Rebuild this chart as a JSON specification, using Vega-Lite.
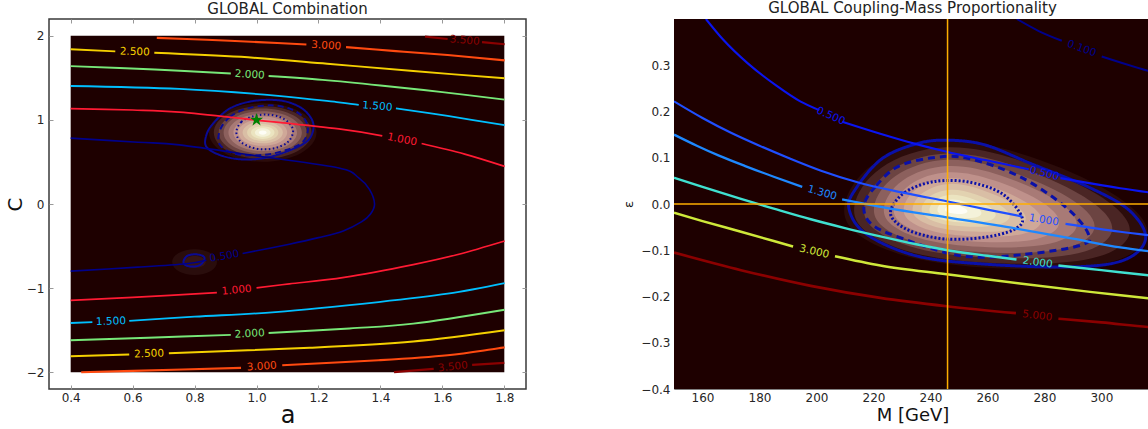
{
"$schema":"https://vega.github.io/schema/vega-lite/v6.json",
"background":"white",
"padding":{"left":4,"top":0,"right":0,"bottom":0},
"spacing":148,
"bounds":"flush",
"config":{
 "font":"DejaVu Sans",
 "view":{"stroke":null},
 "title":{"font":"DejaVu Sans","fontSize":15,"fontWeight":"normal","color":"#222222","offset":2},
 "axis":{"labelFont":"DejaVu Sans","labelFontSize":12,"labelColor":"#262626","titleFont":"DejaVu Sans","titleFontWeight":"normal","titleColor":"#111111","grid":false,"domain":false,"labelFlush":false,"labelOverlap":false,"tickColor":"#999999","tickWidth":1}
},
"resolve":{"scale":{"color":"independent","strokeWidth":"independent","strokeDash":"independent"}},
"datasets":{
 "Lg":[
  {"g":"r01","o":1,"a":1.2125,"c":0.85},{"g":"r01","o":2,"a":1.156,"c":1.122},{"g":"r01","o":3,"a":1.02,"c":1.235},{"g":"r01","o":4,"a":0.884,"c":1.122},{"g":"r01","o":5,"a":0.8275,"c":0.85},{"g":"r01","o":6,"a":0.884,"c":0.578},{"g":"r01","o":7,"a":1.02,"c":0.465},{"g":"r01","o":8,"a":1.156,"c":0.578},
  {"g":"r02","o":1,"a":1.195,"c":0.85},{"g":"r02","o":2,"a":1.144,"c":1.097},{"g":"r02","o":3,"a":1.02,"c":1.2},{"g":"r02","o":4,"a":0.896,"c":1.097},{"g":"r02","o":5,"a":0.845,"c":0.85},{"g":"r02","o":6,"a":0.896,"c":0.603},{"g":"r02","o":7,"a":1.02,"c":0.5},{"g":"r02","o":8,"a":1.144,"c":0.603},
  {"g":"r03","o":1,"a":1.1775,"c":0.85},{"g":"r03","o":2,"a":1.131,"c":1.073},{"g":"r03","o":3,"a":1.02,"c":1.165},{"g":"r03","o":4,"a":0.909,"c":1.073},{"g":"r03","o":5,"a":0.8625,"c":0.85},{"g":"r03","o":6,"a":0.909,"c":0.627},{"g":"r03","o":7,"a":1.02,"c":0.535},{"g":"r03","o":8,"a":1.131,"c":0.627},
  {"g":"r04","o":1,"a":1.16,"c":0.85},{"g":"r04","o":2,"a":1.119,"c":1.048},{"g":"r04","o":3,"a":1.02,"c":1.13},{"g":"r04","o":4,"a":0.921,"c":1.048},{"g":"r04","o":5,"a":0.88,"c":0.85},{"g":"r04","o":6,"a":0.921,"c":0.652},{"g":"r04","o":7,"a":1.02,"c":0.57},{"g":"r04","o":8,"a":1.119,"c":0.652},
  {"g":"r05","o":1,"a":1.1425,"c":0.85},{"g":"r05","o":2,"a":1.107,"c":1.023},{"g":"r05","o":3,"a":1.02,"c":1.095},{"g":"r05","o":4,"a":0.933,"c":1.023},{"g":"r05","o":5,"a":0.8975,"c":0.85},{"g":"r05","o":6,"a":0.933,"c":0.677},{"g":"r05","o":7,"a":1.02,"c":0.605},{"g":"r05","o":8,"a":1.107,"c":0.677},
  {"g":"r06","o":1,"a":1.125,"c":0.85},{"g":"r06","o":2,"a":1.094,"c":0.998},{"g":"r06","o":3,"a":1.02,"c":1.06},{"g":"r06","o":4,"a":0.946,"c":0.998},{"g":"r06","o":5,"a":0.915,"c":0.85},{"g":"r06","o":6,"a":0.946,"c":0.702},{"g":"r06","o":7,"a":1.02,"c":0.64},{"g":"r06","o":8,"a":1.094,"c":0.702},
  {"g":"r07","o":1,"a":1.1075,"c":0.85},{"g":"r07","o":2,"a":1.082,"c":0.974},{"g":"r07","o":3,"a":1.02,"c":1.025},{"g":"r07","o":4,"a":0.958,"c":0.974},{"g":"r07","o":5,"a":0.9325,"c":0.85},{"g":"r07","o":6,"a":0.958,"c":0.726},{"g":"r07","o":7,"a":1.02,"c":0.675},{"g":"r07","o":8,"a":1.082,"c":0.726},
  {"g":"r08","o":1,"a":1.092,"c":0.85},{"g":"r08","o":2,"a":1.071,"c":0.951},{"g":"r08","o":3,"a":1.02,"c":0.994},{"g":"r08","o":4,"a":0.969,"c":0.951},{"g":"r08","o":5,"a":0.948,"c":0.85},{"g":"r08","o":6,"a":0.969,"c":0.749},{"g":"r08","o":7,"a":1.02,"c":0.707},{"g":"r08","o":8,"a":1.071,"c":0.749},
  {"g":"r09","o":1,"a":1.076,"c":0.85},{"g":"r09","o":2,"a":1.06,"c":0.929},{"g":"r09","o":3,"a":1.02,"c":0.962},{"g":"r09","o":4,"a":0.98,"c":0.929},{"g":"r09","o":5,"a":0.964,"c":0.85},{"g":"r09","o":6,"a":0.98,"c":0.771},{"g":"r09","o":7,"a":1.02,"c":0.738},{"g":"r09","o":8,"a":1.06,"c":0.771},
  {"g":"r10","o":1,"a":1.062,"c":0.85},{"g":"r10","o":2,"a":1.05,"c":0.909},{"g":"r10","o":3,"a":1.02,"c":0.934},{"g":"r10","o":4,"a":0.99,"c":0.909},{"g":"r10","o":5,"a":0.978,"c":0.85},{"g":"r10","o":6,"a":0.99,"c":0.791},{"g":"r10","o":7,"a":1.02,"c":0.766},{"g":"r10","o":8,"a":1.05,"c":0.791},
  {"g":"r11","o":1,"a":1.048,"c":0.85},{"g":"r11","o":2,"a":1.04,"c":0.89},{"g":"r11","o":3,"a":1.02,"c":0.906},{"g":"r11","o":4,"a":1.0,"c":0.89},{"g":"r11","o":5,"a":0.992,"c":0.85},{"g":"r11","o":6,"a":1.0,"c":0.81},{"g":"r11","o":7,"a":1.02,"c":0.794},{"g":"r11","o":8,"a":1.04,"c":0.81},
  {"g":"r12","o":1,"a":1.034,"c":0.85},{"g":"r12","o":2,"a":1.03,"c":0.87},{"g":"r12","o":3,"a":1.02,"c":0.878},{"g":"r12","o":4,"a":1.01,"c":0.87},{"g":"r12","o":5,"a":1.006,"c":0.85},{"g":"r12","o":6,"a":1.01,"c":0.83},{"g":"r12","o":7,"a":1.02,"c":0.822},{"g":"r12","o":8,"a":1.03,"c":0.83},
  {"g":"h1","o":1,"a":0.88,"c":-0.69},{"g":"h1","o":2,"a":0.857,"c":-0.57},{"g":"h1","o":3,"a":0.8,"c":-0.52},{"g":"h1","o":4,"a":0.743,"c":-0.57},{"g":"h1","o":5,"a":0.72,"c":-0.69},{"g":"h1","o":6,"a":0.743,"c":-0.81},{"g":"h1","o":7,"a":0.8,"c":-0.86},{"g":"h1","o":8,"a":0.857,"c":-0.81},
  {"g":"h2","o":1,"a":0.84,"c":-0.69},{"g":"h2","o":2,"a":0.828,"c":-0.633},{"g":"h2","o":3,"a":0.8,"c":-0.61},{"g":"h2","o":4,"a":0.772,"c":-0.633},{"g":"h2","o":5,"a":0.76,"c":-0.69},{"g":"h2","o":6,"a":0.772,"c":-0.747},{"g":"h2","o":7,"a":0.8,"c":-0.77},{"g":"h2","o":8,"a":0.828,"c":-0.747}
 ],
 "Lk":[
  {"k":"s","o":1,"a":0.86,"c":0.957},{"k":"s","o":2,"a":0.913,"c":1.134},{"k":"s","o":3,"a":0.988,"c":1.224},{"k":"s","o":4,"a":1.075,"c":1.232},{"k":"s","o":5,"a":1.14,"c":1.153},{"k":"s","o":6,"a":1.177,"c":1.016},{"k":"s","o":7,"a":1.183,"c":0.878},{"k":"s","o":8,"a":1.161,"c":0.74},{"k":"s","o":9,"a":1.096,"c":0.622},{"k":"s","o":10,"a":1.021,"c":0.544},{"k":"s","o":11,"a":0.946,"c":0.532},{"k":"s","o":12,"a":0.881,"c":0.583},{"k":"s","o":13,"a":0.838,"c":0.681},{"k":"s","o":14,"a":0.838,"c":0.819},
  {"k":"d","o":1,"a":0.882,"c":0.878},{"k":"d","o":2,"a":0.914,"c":1.035},{"k":"d","o":3,"a":0.968,"c":1.134},{"k":"d","o":4,"a":1.043,"c":1.173},{"k":"d","o":5,"a":1.107,"c":1.134},{"k":"d","o":6,"a":1.15,"c":1.035},{"k":"d","o":7,"a":1.166,"c":0.898},{"k":"d","o":8,"a":1.15,"c":0.74},{"k":"d","o":9,"a":1.096,"c":0.642},{"k":"d","o":10,"a":1.021,"c":0.583},{"k":"d","o":11,"a":0.935,"c":0.595},{"k":"d","o":12,"a":0.882,"c":0.701},
  {"k":"t","o":1,"a":0.935,"c":0.858},{"k":"t","o":2,"a":0.951,"c":0.976},{"k":"t","o":3,"a":0.989,"c":1.043},{"k":"t","o":4,"a":1.031,"c":1.063},{"k":"t","o":5,"a":1.075,"c":1.035},{"k":"t","o":6,"a":1.107,"c":0.957},{"k":"t","o":7,"a":1.118,"c":0.858},{"k":"t","o":8,"a":1.102,"c":0.74},{"k":"t","o":9,"a":1.064,"c":0.669},{"k":"t","o":10,"a":1.021,"c":0.65},{"k":"t","o":11,"a":0.978,"c":0.681},{"k":"t","o":12,"a":0.946,"c":0.752},
  {"k":"m","o":1,"a":0.764,"c":-0.69},{"k":"m","o":2,"a":0.775,"c":-0.62},{"k":"m","o":3,"a":0.8,"c":-0.598},{"k":"m","o":4,"a":0.825,"c":-0.615},{"k":"m","o":5,"a":0.832,"c":-0.655},{"k":"m","o":6,"a":0.82,"c":-0.72},{"k":"m","o":7,"a":0.8,"c":-0.743},{"k":"m","o":8,"a":0.775,"c":-0.735}
 ],
 "L":[
  {"lv":"3.0","sg":"A","o":1,"a":0.678,"c":1.976},{"lv":"3.0","sg":"A","o":2,"a":0.839,"c":1.953},{"lv":"3.0","sg":"A","o":3,"a":1.006,"c":1.925},{"lv":"3.0","sg":"A","o":4,"a":1.161,"c":1.897},
  {"lv":"3.0","sg":"B","o":1,"a":1.289,"c":1.866},{"lv":"3.0","sg":"B","o":2,"a":1.45,"c":1.818},{"lv":"3.0","sg":"B","o":3,"a":1.617,"c":1.771},{"lv":"3.0","sg":"B","o":4,"a":1.801,"c":1.708},
  {"lv":"3.5","sg":"C","o":1,"a":1.544,"c":1.99},{"lv":"3.5","sg":"C","o":2,"a":1.617,"c":1.962},
  {"lv":"3.5","sg":"D","o":1,"a":1.728,"c":1.925},{"lv":"3.5","sg":"D","o":2,"a":1.801,"c":1.9},
  {"lv":"2.5","sg":"E","o":1,"a":0.4,"c":1.84},{"lv":"2.5","sg":"E","o":2,"a":0.544,"c":1.815},
  {"lv":"2.5","sg":"F","o":1,"a":0.67,"c":1.8},{"lv":"2.5","sg":"F","o":2,"a":0.95,"c":1.75},{"lv":"2.5","sg":"F","o":3,"a":1.228,"c":1.668},{"lv":"2.5","sg":"F","o":4,"a":1.506,"c":1.581},{"lv":"2.5","sg":"F","o":5,"a":1.801,"c":1.494},
  {"lv":"2.0","sg":"G","o":1,"a":0.4,"c":1.64},{"lv":"2.0","sg":"G","o":2,"a":0.672,"c":1.6},{"lv":"2.0","sg":"G","o":3,"a":0.917,"c":1.552},
  {"lv":"2.0","sg":"H","o":1,"a":1.039,"c":1.522},{"lv":"2.0","sg":"H","o":2,"a":1.213,"c":1.476},{"lv":"2.0","sg":"H","o":3,"a":1.4,"c":1.41},{"lv":"2.0","sg":"H","o":4,"a":1.6,"c":1.33},{"lv":"2.0","sg":"H","o":5,"a":1.801,"c":1.241},
  {"lv":"1.5","sg":"I","o":1,"a":0.4,"c":1.403},{"lv":"1.5","sg":"I","o":2,"a":0.751,"c":1.368},{"lv":"1.5","sg":"I","o":3,"a":1.061,"c":1.29},{"lv":"1.5","sg":"I","o":4,"a":1.266,"c":1.209},{"lv":"1.5","sg":"I","o":5,"a":1.33,"c":1.18},
  {"lv":"1.5","sg":"J","o":1,"a":1.45,"c":1.138},{"lv":"1.5","sg":"J","o":2,"a":1.617,"c":1.047},{"lv":"1.5","sg":"J","o":3,"a":1.801,"c":0.937},
  {"lv":"1.0","sg":"K","o":1,"a":0.4,"c":1.134},{"lv":"1.0","sg":"K","o":2,"a":0.6,"c":1.118},{"lv":"1.0","sg":"K","o":3,"a":0.751,"c":1.092},{"lv":"1.0","sg":"K","o":4,"a":1.0,"c":0.998},{"lv":"1.0","sg":"K","o":5,"a":1.266,"c":0.893},{"lv":"1.0","sg":"K","o":6,"a":1.406,"c":0.81},
  {"lv":"1.0","sg":"L","o":1,"a":1.533,"c":0.719},{"lv":"1.0","sg":"L","o":2,"a":1.672,"c":0.593},{"lv":"1.0","sg":"L","o":3,"a":1.801,"c":0.447},
  {"lv":"0.5","sg":"M","o":1,"a":0.4,"c":0.783},{"lv":"0.5","sg":"M","o":2,"a":0.617,"c":0.735},{"lv":"0.5","sg":"M","o":3,"a":0.751,"c":0.703},{"lv":"0.5","sg":"M","o":4,"a":1.01,"c":0.567},{"lv":"0.5","sg":"M","o":5,"a":1.266,"c":0.428},{"lv":"0.5","sg":"M","o":6,"a":1.33,"c":0.31},{"lv":"0.5","sg":"M","o":7,"a":1.365,"c":0.17},{"lv":"0.5","sg":"M","o":8,"a":1.381,"c":0.0},{"lv":"0.5","sg":"M","o":9,"a":1.368,"c":-0.12},{"lv":"0.5","sg":"M","o":10,"a":1.34,"c":-0.21},{"lv":"0.5","sg":"M","o":11,"a":1.28,"c":-0.32},{"lv":"0.5","sg":"M","o":12,"a":1.2,"c":-0.4},{"lv":"0.5","sg":"M","o":13,"a":1.106,"c":-0.478},{"lv":"0.5","sg":"M","o":14,"a":0.955,"c":-0.589},
  {"lv":"0.5","sg":"N","o":1,"a":0.4,"c":-0.798},{"lv":"0.5","sg":"N","o":2,"a":0.617,"c":-0.751},{"lv":"0.5","sg":"N","o":3,"a":0.772,"c":-0.71},{"lv":"0.5","sg":"N","o":4,"a":0.838,"c":-0.668},
  {"lv":"1.0","sg":"O","o":1,"a":0.4,"c":-1.146},{"lv":"1.0","sg":"O","o":2,"a":0.6,"c":-1.11},{"lv":"1.0","sg":"O","o":3,"a":0.872,"c":-1.055},
  {"lv":"1.0","sg":"P","o":1,"a":1.0,"c":-0.997},{"lv":"1.0","sg":"P","o":2,"a":1.106,"c":-0.95},{"lv":"1.0","sg":"P","o":3,"a":1.283,"c":-0.872},{"lv":"1.0","sg":"P","o":4,"a":1.506,"c":-0.72},{"lv":"1.0","sg":"P","o":5,"a":1.65,"c":-0.6},{"lv":"1.0","sg":"P","o":6,"a":1.801,"c":-0.44},
  {"lv":"1.5","sg":"Q","o":1,"a":0.4,"c":-1.415},{"lv":"1.5","sg":"Q","o":2,"a":0.47,"c":-1.405},
  {"lv":"1.5","sg":"R","o":1,"a":0.589,"c":-1.391},{"lv":"1.5","sg":"R","o":2,"a":0.8,"c":-1.34},{"lv":"1.5","sg":"R","o":3,"a":1.061,"c":-1.285},{"lv":"1.5","sg":"R","o":4,"a":1.394,"c":-1.166},{"lv":"1.5","sg":"R","o":5,"a":1.617,"c":-1.067},{"lv":"1.5","sg":"R","o":6,"a":1.801,"c":-0.941},
  {"lv":"2.0","sg":"S","o":1,"a":0.4,"c":-1.62},{"lv":"2.0","sg":"S","o":2,"a":0.65,"c":-1.59},{"lv":"2.0","sg":"S","o":3,"a":0.917,"c":-1.556},
  {"lv":"2.0","sg":"T","o":1,"a":1.039,"c":-1.534},{"lv":"2.0","sg":"T","o":2,"a":1.3,"c":-1.48},{"lv":"2.0","sg":"T","o":3,"a":1.506,"c":-1.423},{"lv":"2.0","sg":"T","o":4,"a":1.801,"c":-1.257},
  {"lv":"2.5","sg":"U","o":1,"a":0.4,"c":-1.81},{"lv":"2.5","sg":"U","o":2,"a":0.589,"c":-1.79},
  {"lv":"2.5","sg":"V","o":1,"a":0.717,"c":-1.775},{"lv":"2.5","sg":"V","o":2,"a":1.172,"c":-1.71},{"lv":"2.5","sg":"V","o":3,"a":1.506,"c":-1.635},{"lv":"2.5","sg":"V","o":4,"a":1.801,"c":-1.502},
  {"lv":"3.0","sg":"W","o":1,"a":0.434,"c":-2.0},{"lv":"3.0","sg":"W","o":2,"a":0.6,"c":-1.985},{"lv":"3.0","sg":"W","o":3,"a":0.95,"c":-1.949},
  {"lv":"3.0","sg":"X","o":1,"a":1.083,"c":-1.917},{"lv":"3.0","sg":"X","o":2,"a":1.394,"c":-1.858},{"lv":"3.0","sg":"X","o":3,"a":1.617,"c":-1.798},{"lv":"3.0","sg":"X","o":4,"a":1.801,"c":-1.704},
  {"lv":"3.5","sg":"Y","o":1,"a":1.444,"c":-2.0},{"lv":"3.5","sg":"Y","o":2,"a":1.572,"c":-1.96},
  {"lv":"3.5","sg":"Z","o":1,"a":1.696,"c":-1.913},{"lv":"3.5","sg":"Z","o":2,"a":1.8,"c":-1.89}
 ],
 "Lt":[
  {"t":"3.000","lv":"3.0","a":1.225,"c":1.882,"r":4},
  {"t":"3.500","lv":"3.5","a":1.672,"c":1.944,"r":5},
  {"t":"2.500","lv":"2.5","a":0.607,"c":1.808,"r":2},
  {"t":"2.000","lv":"2.0","a":0.978,"c":1.537,"r":4},
  {"t":"1.500","lv":"1.5","a":1.39,"c":1.16,"r":5},
  {"t":"1.000","lv":"1.0","a":1.47,"c":0.765,"r":11},
  {"t":"0.500","lv":"0.5","a":0.897,"c":-0.622,"r":-10},
  {"t":"1.000","lv":"1.0","a":0.936,"c":-1.026,"r":-6},
  {"t":"1.500","lv":"1.5","a":0.53,"c":-1.398,"r":-2},
  {"t":"2.000","lv":"2.0","a":0.978,"c":-1.545,"r":-3},
  {"t":"2.500","lv":"2.5","a":0.653,"c":-1.783,"r":-2},
  {"t":"3.000","lv":"3.0","a":1.017,"c":-1.933,"r":-4},
  {"t":"3.500","lv":"3.5","a":1.634,"c":-1.937,"r":-6}
 ],
 "Rg":[
  {"g":"r01","o":1,"m":207.3,"e":-0.01},{"g":"r01","o":2,"m":217.2,"e":0.095},{"g":"r01","o":3,"m":244.7,"e":0.153},{"g":"r01","o":4,"m":274.4,"e":0.109},{"g":"r01","o":5,"m":305.2,"e":0.029},{"g":"r01","o":6,"m":321.7,"e":-0.065},{"g":"r01","o":7,"m":305.2,"e":-0.14},{"g":"r01","o":8,"m":266.7,"e":-0.144},{"g":"r01","o":9,"m":233.7,"e":-0.125},{"g":"r01","o":10,"m":212.8,"e":-0.07},
  {"g":"r02","o":1,"m":211,"e":-0.01},{"g":"r02","o":2,"m":220,"e":0.085},{"g":"r02","o":3,"m":245,"e":0.138},{"g":"r02","o":4,"m":272,"e":0.098},{"g":"r02","o":5,"m":300,"e":0.025},{"g":"r02","o":6,"m":315,"e":-0.06},{"g":"r02","o":7,"m":300,"e":-0.128},{"g":"r02","o":8,"m":265,"e":-0.132},{"g":"r02","o":9,"m":235,"e":-0.115},{"g":"r02","o":10,"m":216,"e":-0.065},
  {"g":"r03","o":1,"m":214.7,"e":-0.01},{"g":"r03","o":2,"m":222.8,"e":0.075},{"g":"r03","o":3,"m":245.3,"e":0.123},{"g":"r03","o":4,"m":269.6,"e":0.087},{"g":"r03","o":5,"m":294.8,"e":0.021},{"g":"r03","o":6,"m":308.3,"e":-0.055},{"g":"r03","o":7,"m":294.8,"e":-0.116},{"g":"r03","o":8,"m":263.3,"e":-0.12},{"g":"r03","o":9,"m":236.3,"e":-0.105},{"g":"r03","o":10,"m":219.2,"e":-0.06},
  {"g":"r04","o":1,"m":218.4,"e":-0.01},{"g":"r04","o":2,"m":225.6,"e":0.066},{"g":"r04","o":3,"m":245.6,"e":0.108},{"g":"r04","o":4,"m":267.2,"e":0.076},{"g":"r04","o":5,"m":289.6,"e":0.018},{"g":"r04","o":6,"m":301.6,"e":-0.05},{"g":"r04","o":7,"m":289.6,"e":-0.105},{"g":"r04","o":8,"m":261.6,"e":-0.108},{"g":"r04","o":9,"m":237.6,"e":-0.094},{"g":"r04","o":10,"m":222.4,"e":-0.054},
  {"g":"r05","o":1,"m":222.1,"e":-0.011},{"g":"r05","o":2,"m":228.4,"e":0.056},{"g":"r05","o":3,"m":245.9,"e":0.093},{"g":"r05","o":4,"m":264.8,"e":0.065},{"g":"r05","o":5,"m":284.4,"e":0.014},{"g":"r05","o":6,"m":294.9,"e":-0.046},{"g":"r05","o":7,"m":284.4,"e":-0.093},{"g":"r05","o":8,"m":259.9,"e":-0.096},{"g":"r05","o":9,"m":238.9,"e":-0.084},{"g":"r05","o":10,"m":225.6,"e":-0.049},
  {"g":"r06","o":1,"m":225.8,"e":-0.011},{"g":"r06","o":2,"m":231.2,"e":0.046},{"g":"r06","o":3,"m":246.2,"e":0.078},{"g":"r06","o":4,"m":262.4,"e":0.054},{"g":"r06","o":5,"m":279.2,"e":0.01},{"g":"r06","o":6,"m":288.2,"e":-0.041},{"g":"r06","o":7,"m":279.2,"e":-0.082},{"g":"r06","o":8,"m":258.2,"e":-0.084},{"g":"r06","o":9,"m":240.2,"e":-0.074},{"g":"r06","o":10,"m":228.8,"e":-0.044},
  {"g":"r07","o":1,"m":229.5,"e":-0.011},{"g":"r07","o":2,"m":234.0,"e":0.037},{"g":"r07","o":3,"m":246.5,"e":0.063},{"g":"r07","o":4,"m":260.0,"e":0.043},{"g":"r07","o":5,"m":274.0,"e":0.007},{"g":"r07","o":6,"m":281.5,"e":-0.036},{"g":"r07","o":7,"m":274.0,"e":-0.07},{"g":"r07","o":8,"m":256.5,"e":-0.072},{"g":"r07","o":9,"m":241.5,"e":-0.064},{"g":"r07","o":10,"m":232.0,"e":-0.039},
  {"g":"r08","o":1,"m":232.8,"e":-0.011},{"g":"r08","o":2,"m":236.5,"e":0.028},{"g":"r08","o":3,"m":246.8,"e":0.05},{"g":"r08","o":4,"m":257.8,"e":0.033},{"g":"r08","o":5,"m":269.3,"e":0.003},{"g":"r08","o":6,"m":275.5,"e":-0.032},{"g":"r08","o":7,"m":269.3,"e":-0.06},{"g":"r08","o":8,"m":255.0,"e":-0.061},{"g":"r08","o":9,"m":242.7,"e":-0.054},{"g":"r08","o":10,"m":234.9,"e":-0.034},
  {"g":"r09","o":1,"m":236.2,"e":-0.011},{"g":"r09","o":2,"m":239.0,"e":0.019},{"g":"r09","o":3,"m":247.0,"e":0.036},{"g":"r09","o":4,"m":255.7,"e":0.023},{"g":"r09","o":5,"m":264.6,"e":0.0},{"g":"r09","o":6,"m":269.4,"e":-0.027},{"g":"r09","o":7,"m":264.6,"e":-0.049},{"g":"r09","o":8,"m":253.4,"e":-0.05},{"g":"r09","o":9,"m":243.8,"e":-0.045},{"g":"r09","o":10,"m":237.8,"e":-0.029},
  {"g":"r10","o":1,"m":239.1,"e":-0.012},{"g":"r10","o":2,"m":241.3,"e":0.011},{"g":"r10","o":3,"m":247.3,"e":0.024},{"g":"r10","o":4,"m":253.8,"e":0.014},{"g":"r10","o":5,"m":260.5,"e":-0.003},{"g":"r10","o":6,"m":264.1,"e":-0.024},{"g":"r10","o":7,"m":260.5,"e":-0.04},{"g":"r10","o":8,"m":252.1,"e":-0.041},{"g":"r10","o":9,"m":244.9,"e":-0.037},{"g":"r10","o":10,"m":240.3,"e":-0.025},
  {"g":"r11","o":1,"m":242.1,"e":-0.012},{"g":"r11","o":2,"m":243.5,"e":0.004},{"g":"r11","o":3,"m":247.5,"e":0.012},{"g":"r11","o":4,"m":251.8,"e":0.006},{"g":"r11","o":5,"m":256.3,"e":-0.006},{"g":"r11","o":6,"m":258.7,"e":-0.02},{"g":"r11","o":7,"m":256.3,"e":-0.031},{"g":"r11","o":8,"m":250.7,"e":-0.031},{"g":"r11","o":9,"m":245.9,"e":-0.029},{"g":"r11","o":10,"m":242.9,"e":-0.021},
  {"g":"r12","o":1,"m":245.0,"e":-0.012},{"g":"r12","o":2,"m":245.8,"e":-0.004},{"g":"r12","o":3,"m":247.8,"e":0.0},{"g":"r12","o":4,"m":249.9,"e":-0.003},{"g":"r12","o":5,"m":252.2,"e":-0.009},{"g":"r12","o":6,"m":253.4,"e":-0.016},{"g":"r12","o":7,"m":252.2,"e":-0.021},{"g":"r12","o":8,"m":249.4,"e":-0.022},{"g":"r12","o":9,"m":247.0,"e":-0.02},{"g":"r12","o":10,"m":245.4,"e":-0.016}
 ],
 "Rk":[
  {"k":"s","o":1,"m":211.4,"e":-0.01},{"k":"s","o":2,"m":214,"e":0.035},{"k":"s","o":3,"m":223,"e":0.098},{"k":"s","o":4,"m":235,"e":0.13},{"k":"s","o":5,"m":245.7,"e":0.138},{"k":"s","o":6,"m":259,"e":0.128},{"k":"s","o":7,"m":275,"e":0.088},{"k":"s","o":8,"m":296,"e":0.035},{"k":"s","o":9,"m":310,"e":-0.015},{"k":"s","o":10,"m":315.5,"e":-0.075},{"k":"s","o":11,"m":308,"e":-0.121},{"k":"s","o":12,"m":290,"e":-0.136},{"k":"s","o":13,"m":259,"e":-0.13},{"k":"s","o":14,"m":235,"e":-0.112},{"k":"s","o":15,"m":217.5,"e":-0.065},
  {"k":"d","o":1,"m":216.7,"e":-0.002},{"k":"d","o":2,"m":221,"e":0.04},{"k":"d","o":3,"m":228.6,"e":0.081},{"k":"d","o":4,"m":240.8,"e":0.1},{"k":"d","o":5,"m":253,"e":0.099},{"k":"d","o":6,"m":271.4,"e":0.059},{"k":"d","o":7,"m":287.3,"e":-0.006},{"k":"d","o":8,"m":295.3,"e":-0.063},{"k":"d","o":9,"m":292.8,"e":-0.089},{"k":"d","o":10,"m":271.4,"e":-0.11},{"k":"d","o":11,"m":250.6,"e":-0.112},{"k":"d","o":12,"m":228.6,"e":-0.071},{"k":"d","o":13,"m":219,"e":-0.042},
  {"k":"t","o":1,"m":226.1,"e":-0.013},{"k":"t","o":2,"m":231,"e":0.025},{"k":"t","o":3,"m":240.8,"e":0.048},{"k":"t","o":4,"m":253,"e":0.048},{"k":"t","o":5,"m":265.2,"e":0.022},{"k":"t","o":6,"m":272.2,"e":-0.03},{"k":"t","o":7,"m":269,"e":-0.056},{"k":"t","o":8,"m":259,"e":-0.072},{"k":"t","o":9,"m":246,"e":-0.076},{"k":"t","o":10,"m":235,"e":-0.063},{"k":"t","o":11,"m":228,"e":-0.04}
 ],
 "R":[
  {"lv":"0.1","sg":"a","o":1,"m":270.3,"e":0.4},{"lv":"0.1","sg":"a","o":2,"m":278,"e":0.374},{"lv":"0.1","sg":"a","o":3,"m":286.1,"e":0.353},
  {"lv":"0.1","sg":"b","o":1,"m":300.1,"e":0.319},{"lv":"0.1","sg":"b","o":2,"m":316.4,"e":0.288},{"lv":"0.1","sg":"b","o":3,"m":325,"e":0.274},
  {"lv":"0.5","sg":"c","o":1,"m":161.2,"e":0.4},{"lv":"0.5","sg":"c","o":2,"m":167.3,"e":0.355},{"lv":"0.5","sg":"c","o":3,"m":175.9,"e":0.304},{"lv":"0.5","sg":"c","o":4,"m":185.7,"e":0.257},{"lv":"0.5","sg":"c","o":5,"m":194.3,"e":0.222},{"lv":"0.5","sg":"c","o":6,"m":201,"e":0.203},
  {"lv":"0.5","sg":"d","o":1,"m":209,"e":0.178},{"lv":"0.5","sg":"d","o":2,"m":222.4,"e":0.152},{"lv":"0.5","sg":"d","o":3,"m":234.7,"e":0.13},{"lv":"0.5","sg":"d","o":4,"m":245.7,"e":0.113},{"lv":"0.5","sg":"d","o":5,"m":259.2,"e":0.095},{"lv":"0.5","sg":"d","o":6,"m":274.5,"e":0.075},
  {"lv":"0.5","sg":"e","o":1,"m":285.6,"e":0.056},{"lv":"0.5","sg":"e","o":2,"m":306.6,"e":0.034},{"lv":"0.5","sg":"e","o":3,"m":325,"e":0.018},
  {"lv":"1.0","sg":"f","o":1,"m":150,"e":0.222},{"lv":"1.0","sg":"f","o":2,"m":160,"e":0.186},{"lv":"1.0","sg":"f","o":3,"m":170,"e":0.154},{"lv":"1.0","sg":"f","o":4,"m":180,"e":0.126},{"lv":"1.0","sg":"f","o":5,"m":190,"e":0.1},{"lv":"1.0","sg":"f","o":6,"m":201.6,"e":0.072},{"lv":"1.0","sg":"f","o":7,"m":215,"e":0.046},{"lv":"1.0","sg":"f","o":8,"m":230,"e":0.025},{"lv":"1.0","sg":"f","o":9,"m":245.7,"e":0.006},{"lv":"1.0","sg":"f","o":10,"m":260,"e":-0.012},{"lv":"1.0","sg":"f","o":11,"m":272.2,"e":-0.027},
  {"lv":"1.0","sg":"g","o":1,"m":287.4,"e":-0.043},{"lv":"1.0","sg":"g","o":2,"m":306.6,"e":-0.06},{"lv":"1.0","sg":"g","o":3,"m":325,"e":-0.073},
  {"lv":"1.3","sg":"h","o":1,"m":150,"e":0.15},{"lv":"1.3","sg":"h","o":2,"m":158,"e":0.126},{"lv":"1.3","sg":"h","o":3,"m":166,"e":0.104},{"lv":"1.3","sg":"h","o":4,"m":175,"e":0.082},{"lv":"1.3","sg":"h","o":5,"m":185,"e":0.059},{"lv":"1.3","sg":"h","o":6,"m":195,"e":0.037},
  {"lv":"1.3","sg":"i","o":1,"m":209,"e":0.01},{"lv":"1.3","sg":"i","o":2,"m":225,"e":-0.009},{"lv":"1.3","sg":"i","o":3,"m":245.7,"e":-0.029},{"lv":"1.3","sg":"i","o":4,"m":270,"e":-0.053},{"lv":"1.3","sg":"i","o":5,"m":290,"e":-0.075},{"lv":"1.3","sg":"i","o":6,"m":306.6,"e":-0.094},{"lv":"1.3","sg":"i","o":7,"m":325,"e":-0.108},
  {"lv":"2.0","sg":"j","o":1,"m":150,"e":0.057},{"lv":"2.0","sg":"j","o":2,"m":160,"e":0.037},{"lv":"2.0","sg":"j","o":3,"m":173.5,"e":0.011},{"lv":"2.0","sg":"j","o":4,"m":185,"e":-0.01},{"lv":"2.0","sg":"j","o":5,"m":198,"e":-0.033},{"lv":"2.0","sg":"j","o":6,"m":210,"e":-0.052},{"lv":"2.0","sg":"j","o":7,"m":222.4,"e":-0.07},{"lv":"2.0","sg":"j","o":8,"m":235,"e":-0.087},{"lv":"2.0","sg":"j","o":9,"m":247,"e":-0.101},{"lv":"2.0","sg":"j","o":10,"m":260,"e":-0.112},{"lv":"2.0","sg":"j","o":11,"m":270.2,"e":-0.12},
  {"lv":"2.0","sg":"k","o":1,"m":284.9,"e":-0.133},{"lv":"2.0","sg":"k","o":2,"m":300,"e":-0.143},{"lv":"2.0","sg":"k","o":3,"m":316.5,"e":-0.154},{"lv":"2.0","sg":"k","o":4,"m":325,"e":-0.159},
  {"lv":"3.0","sg":"l","o":1,"m":150,"e":-0.019},{"lv":"3.0","sg":"l","o":2,"m":160,"e":-0.037},{"lv":"3.0","sg":"l","o":3,"m":173.5,"e":-0.06},{"lv":"3.0","sg":"l","o":4,"m":185,"e":-0.08},{"lv":"3.0","sg":"l","o":5,"m":191.8,"e":-0.092},
  {"lv":"3.0","sg":"m","o":1,"m":206.5,"e":-0.113},{"lv":"3.0","sg":"m","o":2,"m":222.4,"e":-0.133},{"lv":"3.0","sg":"m","o":3,"m":245.7,"e":-0.152},{"lv":"3.0","sg":"m","o":4,"m":271.4,"e":-0.172},{"lv":"3.0","sg":"m","o":5,"m":296,"e":-0.19},{"lv":"3.0","sg":"m","o":6,"m":316.5,"e":-0.204},{"lv":"3.0","sg":"m","o":7,"m":325,"e":-0.21},
  {"lv":"5.0","sg":"n","o":1,"m":150,"e":-0.105},{"lv":"5.0","sg":"n","o":2,"m":173.5,"e":-0.143},{"lv":"5.0","sg":"n","o":3,"m":198,"e":-0.177},{"lv":"5.0","sg":"n","o":4,"m":222.4,"e":-0.203},{"lv":"5.0","sg":"n","o":5,"m":245.7,"e":-0.221},{"lv":"5.0","sg":"n","o":6,"m":270,"e":-0.236},
  {"lv":"5.0","sg":"o","o":1,"m":284.9,"e":-0.248},{"lv":"5.0","sg":"o","o":2,"m":300,"e":-0.256},{"lv":"5.0","sg":"o","o":3,"m":316.5,"e":-0.266},{"lv":"5.0","sg":"o","o":4,"m":325,"e":-0.27}
 ],
 "Rt":[
  {"t":"0.100","lv":"0.1","m":293.1,"e":0.336,"r":20},
  {"t":"0.500","lv":"0.5","m":205,"e":0.19,"r":24},
  {"t":"0.500","lv":"0.5","m":280,"e":0.066,"r":14},
  {"t":"1.300","lv":"1.3","m":202,"e":0.024,"r":16},
  {"t":"1.000","lv":"1.0","m":279.8,"e":-0.035,"r":9},
  {"t":"2.000","lv":"2.0","m":277.6,"e":-0.127,"r":8},
  {"t":"3.000","lv":"3.0","m":199.2,"e":-0.103,"r":13},
  {"t":"5.000","lv":"5.0","m":277.5,"e":-0.242,"r":7}
 ]
},
"hconcat":[
 {
  "width":477,"height":370,
  "title":{"text":"GLOBAL Combination"},
  "view":{"stroke":"#3a3a3a","strokeWidth":1.5},
  "resolve":{"axis":{"x":"independent","y":"independent"}},
  "layer":[
   {
    "data":{"values":[{"a0":0.4,"a1":1.8,"c0":-2,"c1":2}]},
    "mark":{"type":"rect","fill":"#1e0000"},
    "encoding":{
     "x":{"field":"a0","type":"quantitative","scale":{"domain":[0.33,1.87],"nice":false,"zero":false},
      "axis":{"orient":"bottom","title":"a","values":[0.4,0.6,0.8,1.0,1.2,1.4,1.6,1.8],"format":".1f","tickSize":-4,"labelPadding":7.5,"titleFontSize":24,"titlePadding":0}},
     "x2":{"field":"a1"},
     "y":{"field":"c0","type":"quantitative","scale":{"domain":[-2.2,2.2],"nice":false,"zero":false},
      "axis":{"orient":"left","title":"C","values":[-2,-1,0,1,2],"format":"d","tickSize":-4,"labelPadding":9,"titleFontSize":20,"titlePadding":1}},
     "y2":{"field":"c1"}
    }
   },
   {
    "data":{"name":"Lg"},
    "mark":{"type":"line","filled":true,"interpolate":"basis-closed","strokeWidth":0},
    "encoding":{
     "x":{"field":"a","type":"quantitative","axis":null},
     "y":{"field":"c","type":"quantitative","axis":null},
     "color":{"field":"g","type":"nominal","legend":null,"scale":{"domain":["r01","r02","r03","r04","r05","r06","r07","r08","r09","r10","r11","r12","h1","h2","0.5","1.0","1.5","2.0","2.5","3.0","3.5"],"range":["#2c0c0b","#4a2524","#6c4442","#8c605d","#a87a76","#bf918b","#cfa898","#d9bea5","#e2d2b0","#ebe4c0","#f4f2da","#fdfdf6","#2a0d0c","#371615","#00008b","#ff1a33","#00bfff","#78e878","#f5d000","#ff4a10","#8b0000"]}},
     "order":{"field":"o","type":"quantitative"}
    }
   },
   {
    "data":{"name":"Lk"},
    "mark":{"type":"line","interpolate":"cardinal-closed","stroke":"#0b0b95","strokeWidth":2},
    "encoding":{
     "x":{"field":"a","type":"quantitative","axis":null},
     "y":{"field":"c","type":"quantitative","axis":null},
     "strokeDash":{"field":"k","type":"nominal","legend":null,"scale":{"domain":["s","d","t","m"],"range":[[1,0],[6,4],[1.5,2.5],[1,0]]}},
     "order":{"field":"o","type":"quantitative"}
    }
   },
   {
    "data":{"name":"L"},
    "mark":{"type":"line","interpolate":"cardinal"},
    "encoding":{
     "x":{"field":"a","type":"quantitative","axis":null},
     "y":{"field":"c","type":"quantitative","axis":null},
     "color":{"field":"lv","type":"nominal","legend":null,"scale":{"domain":["r01","r02","r03","r04","r05","r06","r07","r08","r09","r10","r11","r12","h1","h2","0.5","1.0","1.5","2.0","2.5","3.0","3.5"],"range":["#2c0c0b","#4a2524","#6c4442","#8c605d","#a87a76","#bf918b","#cfa898","#d9bea5","#e2d2b0","#ebe4c0","#f4f2da","#fdfdf6","#2a0d0c","#371615","#00008b","#ff1a33","#00bfff","#78e878","#f5d000","#ff4a10","#8b0000"]}},
     "strokeWidth":{"field":"lv","type":"nominal","legend":null,"scale":{"domain":["0.5","1.0","1.5","2.0","2.5","3.0","3.5"],"range":[1.6,2.2,2.2,2.2,2.2,2.2,1.8]}},
     "detail":{"field":"sg","type":"nominal"},
     "order":{"field":"o","type":"quantitative"}
    }
   },
   {
    "data":{"name":"Lt"},
    "mark":{"type":"text","font":"DejaVu Sans","fontSize":10.5,"align":"center","baseline":"middle"},
    "encoding":{
     "x":{"field":"a","type":"quantitative","axis":null},
     "y":{"field":"c","type":"quantitative","axis":null},
     "text":{"field":"t","type":"nominal"},
     "angle":{"field":"r","type":"quantitative","scale":null},
     "color":{"field":"lv","type":"nominal","legend":null,"scale":{"domain":["r01","r02","r03","r04","r05","r06","r07","r08","r09","r10","r11","r12","h1","h2","0.5","1.0","1.5","2.0","2.5","3.0","3.5"],"range":["#2c0c0b","#4a2524","#6c4442","#8c605d","#a87a76","#bf918b","#cfa898","#d9bea5","#e2d2b0","#ebe4c0","#f4f2da","#fdfdf6","#2a0d0c","#371615","#00008b","#ff1a33","#00bfff","#78e878","#f5d000","#ff4a10","#8b0000"]}}
    }
   },
   {
    "data":{"values":[{"a":1.0,"c":1.0}]},
    "mark":{"type":"point","filled":true,"fill":"#008000","fillOpacity":1,"strokeWidth":0,"size":190,"shape":"M0,-1L0.225,-0.309L0.951,-0.309L0.363,0.118L0.588,0.809L0,0.382L-0.588,0.809L-0.363,0.118L-0.951,-0.309L-0.225,-0.309Z"},
    "encoding":{
     "x":{"field":"a","type":"quantitative","axis":{"orient":"top","labels":false,"title":null,"tickSize":-4,"values":[0.4,0.6,0.8,1.0,1.2,1.4,1.6,1.8]}},
     "y":{"field":"c","type":"quantitative","axis":{"orient":"right","labels":false,"title":null,"tickSize":-4,"values":[-2,-1,0,1,2]}}
    }
   }
  ]
 },
 {
  "width":477,"height":370,
  "title":{"text":"GLOBAL Coupling-Mass Proportionality"},
  "view":{"stroke":"#808080","strokeWidth":1},
  "layer":[
   {
    "data":{"values":[{"m0":150,"m1":317.4,"e0":-0.4,"e1":0.4}]},
    "mark":{"type":"rect","fill":"#1e0000"},
    "encoding":{
     "x":{"field":"m0","type":"quantitative","scale":{"domain":[150,317.4],"nice":false,"zero":false},
      "axis":{"title":"M [GeV]","values":[160,180,200,220,240,260,280,300],"ticks":false,"labelPadding":3,"titleFontSize":18,"titlePadding":3}},
     "x2":{"field":"m1"},
     "y":{"field":"e0","type":"quantitative","scale":{"domain":[-0.4,0.4],"nice":false,"zero":false},
      "axis":{"title":"ε","values":[-0.4,-0.3,-0.2,-0.1,0,0.1,0.2,0.3],"format":".1f","ticks":false,"labelPadding":4,"titleFontSize":13,"titlePadding":5}},
     "y2":{"field":"e1"}
    }
   },
   {
    "data":{"name":"Rg"},
    "mark":{"type":"line","filled":true,"interpolate":"basis-closed","strokeWidth":0,"clip":true},
    "encoding":{
     "x":{"field":"m","type":"quantitative"},
     "y":{"field":"e","type":"quantitative"},
     "color":{"field":"g","type":"nominal","legend":null,"scale":{"domain":["r01","r02","r03","r04","r05","r06","r07","r08","r09","r10","r11","r12","0.1","0.5","1.0","1.3","2.0","3.0","5.0"],"range":["#2c0c0b","#4a2524","#6c4442","#8c605d","#a87a76","#bf918b","#cfa898","#d9bea5","#e2d2b0","#ebe4c0","#f4f2da","#fdfdf6","#00008b","#0a14f0","#1f4fff","#1e88ff","#40e0d0","#cfe83a","#8b0000"]}},
     "order":{"field":"o","type":"quantitative"}
    }
   },
   {
    "data":{"name":"Rk"},
    "mark":{"type":"line","interpolate":"cardinal-closed","stroke":"#0a10a8","strokeWidth":3,"clip":true},
    "encoding":{
     "x":{"field":"m","type":"quantitative"},
     "y":{"field":"e","type":"quantitative"},
     "strokeDash":{"field":"k","type":"nominal","legend":null,"scale":{"domain":["s","d","t"],"range":[[1,0],[7,5],[2,2]]}},
     "order":{"field":"o","type":"quantitative"}
    }
   },
   {
    "data":{"name":"R"},
    "mark":{"type":"line","interpolate":"monotone","clip":true},
    "encoding":{
     "x":{"field":"m","type":"quantitative"},
     "y":{"field":"e","type":"quantitative"},
     "color":{"field":"lv","type":"nominal","legend":null,"scale":{"domain":["r01","r02","r03","r04","r05","r06","r07","r08","r09","r10","r11","r12","0.1","0.5","1.0","1.3","2.0","3.0","5.0"],"range":["#2c0c0b","#4a2524","#6c4442","#8c605d","#a87a76","#bf918b","#cfa898","#d9bea5","#e2d2b0","#ebe4c0","#f4f2da","#fdfdf6","#00008b","#0a14f0","#1f4fff","#1e88ff","#40e0d0","#cfe83a","#8b0000"]}},
     "strokeWidth":{"field":"lv","type":"nominal","legend":null,"scale":{"domain":["0.1","0.5","1.0","1.3","2.0","3.0","5.0"],"range":[2,2.6,2.4,2.4,2.4,2.4,1.6]}},
     "detail":{"field":"sg","type":"nominal"},
     "order":{"field":"o","type":"quantitative"}
    }
   },
   {
    "data":{"name":"Rt"},
    "mark":{"type":"text","font":"DejaVu Sans","fontSize":10.5,"align":"center","baseline":"middle"},
    "encoding":{
     "x":{"field":"m","type":"quantitative"},
     "y":{"field":"e","type":"quantitative"},
     "text":{"field":"t","type":"nominal"},
     "angle":{"field":"r","type":"quantitative","scale":null},
     "color":{"field":"lv","type":"nominal","legend":null,"scale":{"domain":["r01","r02","r03","r04","r05","r06","r07","r08","r09","r10","r11","r12","0.1","0.5","1.0","1.3","2.0","3.0","5.0"],"range":["#2c0c0b","#4a2524","#6c4442","#8c605d","#a87a76","#bf918b","#cfa898","#d9bea5","#e2d2b0","#ebe4c0","#f4f2da","#fdfdf6","#00008b","#0a14f0","#1f4fff","#1e88ff","#40e0d0","#cfe83a","#8b0000"]}}
    }
   },
   {
    "data":{"values":[{"m":246}]},
    "mark":{"type":"rule","color":"#ffae00","strokeWidth":1.5},
    "encoding":{"x":{"field":"m","type":"quantitative"}}
   },
   {
    "data":{"values":[{"e":0}]},
    "mark":{"type":"rule","color":"#ffae00","strokeWidth":1.5},
    "encoding":{"y":{"field":"e","type":"quantitative"}}
   }
  ]
 }
]
}
